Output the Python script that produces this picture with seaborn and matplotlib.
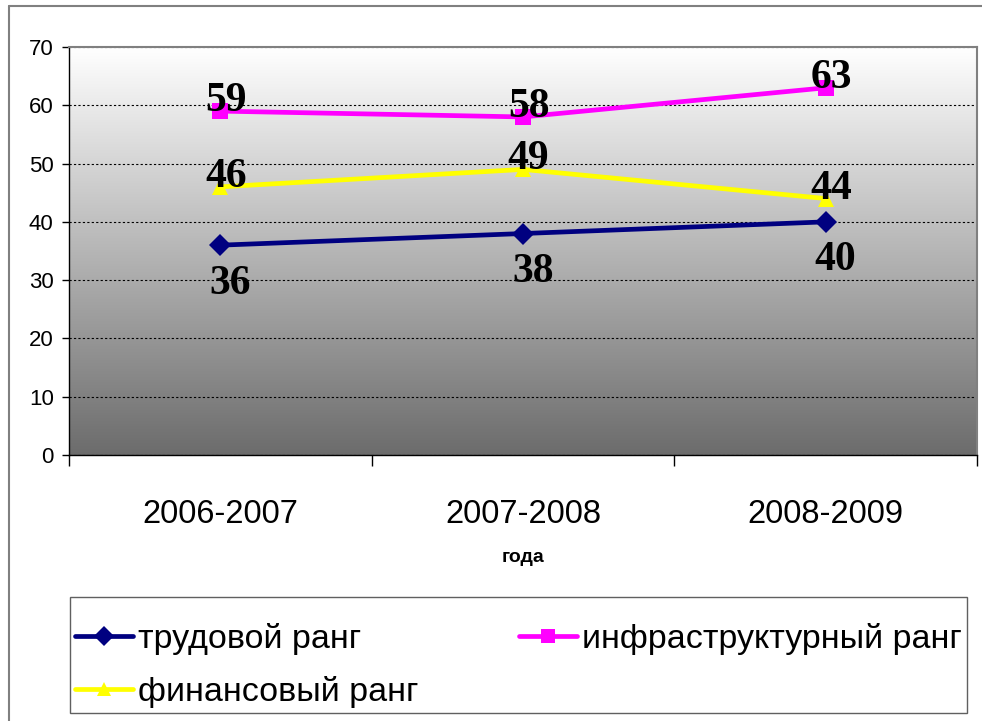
import numpy as np
import pandas as pd
import matplotlib
matplotlib.use("Agg")
import matplotlib.pyplot as plt
import seaborn as sns
from matplotlib.lines import Line2D
from matplotlib.patches import Rectangle
from matplotlib.colors import LinearSegmentedColormap

# данные
periodos = ["2006-2007", "2007-2008", "2008-2009"]
trudovoy = [36, 38, 40]
infra = [59, 58, 63]
finans = [46, 49, 44]
nomes = ["трудовой ранг", "инфраструктурный ранг", "финансовый ранг"]
cores = ["#000080", "#FF00FF", "#FFFF00"]
marcadores = ["D", "s", "^"]

df = pd.DataFrame({
    "период": periodos * 3,
    "ранг": trudovoy + infra + finans,
    "серия": [n for n in nomes for _ in periodos],
})

sns.set_style("white")
plt.rcParams["font.family"] = ["Liberation Sans", "DejaVu Sans"]
plt.rcParams["text.color"] = "black"
plt.rcParams["xtick.color"] = "black"
plt.rcParams["ytick.color"] = "black"

fig = plt.figure(figsize=(9.82, 7.21), dpi=100)
ax = fig.add_axes([69 / 982, 1 - 455 / 721, (977 - 69) / 982, (455 - 47) / 721])

sns.lineplot(data=df, x="период", y="ранг", hue="серия", style="серия",
             palette=dict(zip(nomes, cores)), markers=dict(zip(nomes, marcadores)),
             dashes=False, linewidth=3.4, markersize=11, markeredgewidth=0,
             sort=False, legend=False, ax=ax, zorder=3)

# fundo em degradê
cmap = LinearSegmentedColormap.from_list("fundo", ["#6c6c6c", "#ffffff"])
grad = np.linspace(1, 0, 256).reshape(-1, 1)
ax.imshow(grad, extent=[0, 1, 0, 1], transform=ax.transAxes, cmap=cmap,
          aspect="auto", zorder=0, vmin=0, vmax=1)

ax.set_xlim(-0.5, 2.5)
ax.set_ylim(0, 70)
ax.set_yticks(range(0, 71, 10))
ax.set_xlabel("")
ax.set_ylabel("")

ax.set_axisbelow(True)
ax.yaxis.grid(True, linestyle=(0, (2, 2)), color="black", linewidth=0.8)
ax.xaxis.grid(False)

for lado in ["left", "bottom"]:
    ax.spines[lado].set_color("black")
    ax.spines[lado].set_linewidth(1)
for lado in ["top", "right"]:
    ax.spines[lado].set_color("#808080")
    ax.spines[lado].set_linewidth(1.5)

ax.tick_params(axis="y", left=True, length=5, width=1, labelsize=16, pad=6)
ax.tick_params(axis="x", which="major", length=0, labelsize=23.5, pad=32)
ax.set_xticks([-0.5, 0.5, 1.5, 2.5], minor=True)
ax.tick_params(axis="x", which="minor", bottom=True, length=8, width=1)

# rótulos dos valores
serif = dict(fontfamily="Liberation Serif", fontweight="bold", fontsize=30,
             color="black")
for i, v in enumerate(trudovoy):
    ax.annotate(str(v), (i, v), xytext=(7, -14), textcoords="offset points",
                ha="center", va="top", zorder=5, **serif)
for serie in [infra, finans]:
    for i, v in enumerate(serie):
        ax.annotate(str(v), (i, v), xytext=(4, 0), textcoords="offset points",
                    ha="center", va="baseline", zorder=5, **serif)

fig.text(523 / 982, 1 - 557 / 721, "года", ha="center", va="center",
         fontsize=14, fontweight="bold")

# legenda
handles = [Line2D([], [], color=c, marker=m, markersize=10, markeredgewidth=0,
                  linewidth=3.4, label=n)
           for n, c, m in zip(nomes, cores, marcadores)]
leg = fig.legend(handles=[handles[0], handles[2], handles[1]], ncol=2,
                 loc="lower left",
                 bbox_to_anchor=(70 / 982, 1 - 713 / 721, 897 / 982, 116 / 721),
                 mode="expand", frameon=False, fontsize=24.5,
                 handlelength=1.7, handletextpad=0.15, borderaxespad=0,
                 labelspacing=0.62, borderpad=0.15)
fig.add_artist(Rectangle((70 / 982, 1 - 713 / 721), 897 / 982, 116 / 721,
                         transform=fig.transFigure, fill=False,
                         edgecolor="#606060", linewidth=1))

# moldura externa
fig.add_artist(Line2D([9 / 982, 9 / 982], [0, 1 - 6 / 721], transform=fig.transFigure,
                      color="#808080", linewidth=1.5))
fig.add_artist(Line2D([9 / 982, 1], [1 - 6 / 721, 1 - 6 / 721], transform=fig.transFigure,
                      color="#808080", linewidth=1.5))

fig.savefig("out.png", dpi=100)
